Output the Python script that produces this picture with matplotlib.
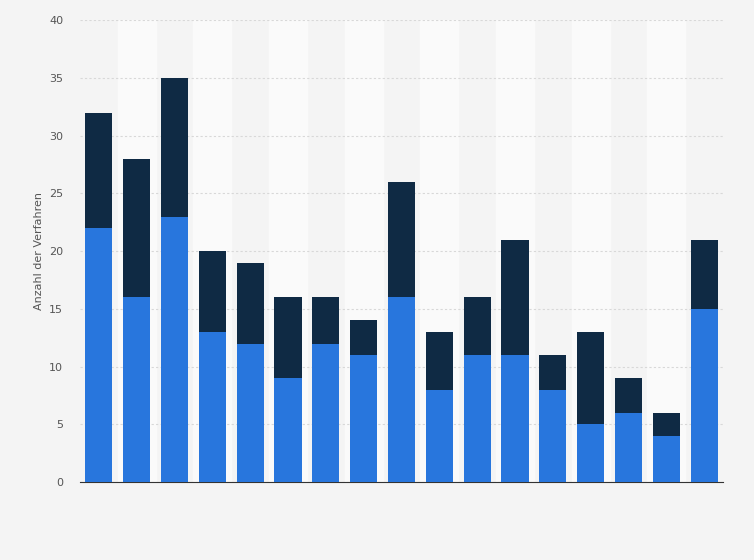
import numpy as np
import matplotlib.pyplot as plt

blue = [22, 16, 23, 13, 12, 9, 12, 11, 16, 8, 11, 11, 8, 5, 6, 4, 15]
total = [32, 28, 35, 20, 19, 16, 16, 14, 26, 13, 16, 21, 11, 13, 9, 6, 21]
dark = [t - b for t, b in zip(total, blue)]
yticks = [0, 5, 10, 15, 20, 25, 30, 35, 40]

fig = plt.figure(figsize=(7.54, 5.6), dpi=100)
fig.patch.set_facecolor('#f4f4f4')
ax = fig.add_axes([0.106, 0.139, 0.853, 0.825])
ax.set_facecolor('#f4f4f4')

x = np.arange(len(blue))
for i in x:
    if i % 2 == 1:
        ax.axvspan(i - 0.5, i + 0.5, color='#fafafa', zorder=0)

ax.bar(x, blue, width=0.72, color='#2876dd', zorder=3)
ax.bar(x, dark, bottom=blue, width=0.72, color='#0f2a44', zorder=3)

ax.set_xlim(-0.5, len(blue) - 0.5)
ax.set_ylim(0, 40)
ax.set_yticks(yticks)
ax.set_xticks([])
ax.yaxis.grid(True, color='#d8d8d8', linestyle=(0, (2, 2)), linewidth=0.8, zorder=1)
for s in ['top', 'right', 'left']:
    ax.spines[s].set_visible(False)
ax.spines['bottom'].set_color('#333333')
ax.tick_params(axis='y', length=0, labelsize=8, labelcolor='#555555', pad=12)
ax.set_ylabel('Anzahl der Verfahren', fontsize=8, color='#555555')

fig.savefig('out.png', dpi=100, facecolor=fig.get_facecolor())
